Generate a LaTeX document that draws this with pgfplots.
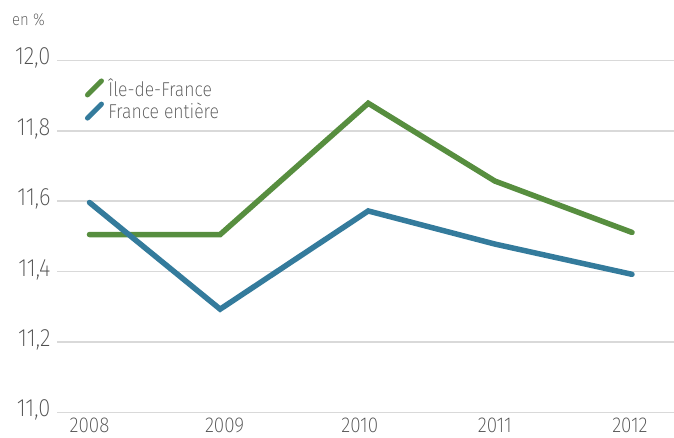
\documentclass[border=0pt]{standalone}
\usepackage{fontspec}
\setmainfont{Fira Sans}[UprightFont={* ExtraLight}, FakeStretch=0.88]
\usepackage{pgfplots}
\pgfplotsset{compat=1.18}
\definecolor{idf}{HTML}{578E3F}
\definecolor{fra}{HTML}{347B9C}
\definecolor{txt}{HTML}{505050}
\definecolor{grd}{HTML}{D9D9D9}
\begin{document}
\begin{tikzpicture}
\useasboundingbox (0,0) rectangle (674pt,437pt);
\node[anchor=base west, text=txt, font=\fontsize{17}{19}\selectfont, inner sep=0pt] at (12pt,411pt) {en \%};
\begin{axis}[
  at={(57pt,24.7pt)}, anchor=south west,
  scale only axis, width=617pt, height=352pt,
  xmin=2007.7595, xmax=2012.326, ymin=11, ymax=12,
  axis line style={draw=none}, tick style={draw=none},
  ytick={11,11.2,11.4,11.6,11.8,12},
  xtick={2008,2009,2010,2011,2012},
  xticklabels={2008,2009,2010,2011,2012},
  ymajorgrids, grid style={line width=1.6pt, color=grd},
  /pgf/number format/.cd, use comma, fixed, fixed zerofill, precision=1, assume math mode=true,
  /pgfplots/.cd,
  yticklabel style={text=txt, font=\fontsize{25}{27}\selectfont, yshift=2pt, xshift=-3pt},
  xticklabel style={text=txt, font=\fontsize{21.5}{23}\selectfont, inner ysep=0.5pt, yshift=-5pt},
  legend style={draw=none, fill=none, at={(0.045,0.955)}, anchor=north west,
    font=\fontsize{20}{22}\selectfont, text=txt, row sep=1pt, inner sep=0pt,
    nodes={inner xsep=4pt}},
  legend cell align=left,
  legend image code/.code={\path[draw=none, fill=none] (0pt,0pt) -- (19pt,0pt);
    \draw[#1, line width=5pt, line cap=round] (2pt,-7pt) -- (16pt,7pt);},
]
\addplot[idf, line width=5.5pt, line join=miter, line cap=round] coordinates {
  (2008,11.505) (2008.967,11.505) (2010.063,11.878) (2011,11.657) (2012.015,11.511)};
\addlegendentry{Île-de-France}
\addplot[fra, line width=5.5pt, line join=miter, line cap=round] coordinates {
  (2008,11.596) (2008.967,11.293) (2010.063,11.572) (2011,11.478) (2012.015,11.392)};
\addlegendentry{France entière}
\end{axis}
\end{tikzpicture}
\end{document}
